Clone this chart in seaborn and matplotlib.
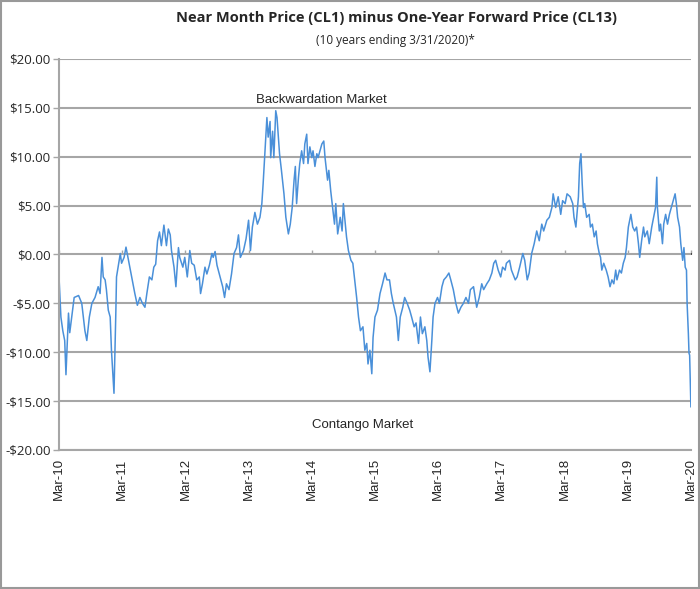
"""CL1 minus CL13 spread, 10 years ending 3/31/2020."""

import matplotlib
matplotlib.use("Agg")
import matplotlib.pyplot as plt
import matplotlib.ticker as mticker
import pandas as pd
import seaborn as sns

# decimal year of each traced point and the spread in $/bbl
years = [
    2010.25, 2010.28, 2010.31, 2010.34, 2010.36, 2010.40, 2010.42, 2010.49, 2010.56, 2010.61,
    2010.66, 2010.69, 2010.73, 2010.77, 2010.82, 2010.87, 2010.90, 2010.93, 2010.95, 2010.98,
    2011.00, 2011.03, 2011.06, 2011.08, 2011.12, 2011.15, 2011.16, 2011.19, 2011.22, 2011.24,
    2011.28, 2011.31, 2011.35, 2011.40, 2011.45, 2011.49, 2011.53, 2011.57, 2011.61, 2011.64,
    2011.68, 2011.72, 2011.75, 2011.78, 2011.81, 2011.84, 2011.87, 2011.91, 2011.95, 2011.98,
    2012.01, 2012.03, 2012.07, 2012.10, 2012.14, 2012.16, 2012.21, 2012.24, 2012.28, 2012.32,
    2012.35, 2012.39, 2012.43, 2012.47, 2012.49, 2012.52, 2012.56, 2012.59, 2012.63, 2012.67,
    2012.69, 2012.72, 2012.75, 2012.80, 2012.84, 2012.87, 2012.90, 2012.94, 2012.98, 2013.02,
    2013.06, 2013.09, 2013.12, 2013.17, 2013.21, 2013.25, 2013.28, 2013.31, 2013.35, 2013.39,
    2013.43, 2013.46, 2013.48, 2013.51, 2013.53, 2013.54, 2013.56, 2013.59, 2013.60, 2013.63,
    2013.65, 2013.68, 2013.70, 2013.74, 2013.77, 2013.81, 2013.84, 2013.88, 2013.91, 2013.94,
    2013.97, 2013.99, 2014.01, 2014.04, 2014.06, 2014.09, 2014.12, 2014.14, 2014.17, 2014.19,
    2014.22, 2014.25, 2014.27, 2014.30, 2014.33, 2014.35, 2014.38, 2014.41, 2014.44, 2014.46,
    2014.50, 2014.52, 2014.55, 2014.58, 2014.61, 2014.63, 2014.66, 2014.70, 2014.73, 2014.75,
    2014.78, 2014.80, 2014.83, 2014.87, 2014.90, 2014.93, 2014.96, 2014.99, 2015.02, 2015.06,
    2015.09, 2015.12, 2015.14, 2015.17, 2015.20, 2015.22, 2015.25, 2015.29, 2015.33, 2015.37,
    2015.41, 2015.44, 2015.48, 2015.51, 2015.54, 2015.59, 2015.62, 2015.65, 2015.69, 2015.72,
    2015.76, 2015.80, 2015.83, 2015.87, 2015.90, 2015.94, 2015.97, 2016.00, 2016.04, 2016.07,
    2016.09, 2016.12, 2016.15, 2016.17, 2016.20, 2016.24, 2016.27, 2016.31, 2016.34, 2016.38,
    2016.42, 2016.45, 2016.49, 2016.53, 2016.57, 2016.61, 2016.65, 2016.69, 2016.73, 2016.76,
    2016.81, 2016.86, 2016.90, 2016.94, 2016.97, 2017.02, 2017.06, 2017.10, 2017.13, 2017.16,
    2017.20, 2017.24, 2017.27, 2017.31, 2017.33, 2017.38, 2017.41, 2017.47, 2017.50, 2017.54,
    2017.59, 2017.62, 2017.66, 2017.69, 2017.73, 2017.77, 2017.81, 2017.85, 2017.89, 2017.92,
    2017.97, 2018.01, 2018.05, 2018.07, 2018.11, 2018.15, 2018.19, 2018.22, 2018.26, 2018.29,
    2018.34, 2018.38, 2018.40, 2018.43, 2018.47, 2018.49, 2018.51, 2018.53, 2018.55, 2018.57,
    2018.60, 2018.64, 2018.66, 2018.69, 2018.72, 2018.75, 2018.77, 2018.80, 2018.82, 2018.84,
    2018.87, 2018.91, 2018.94, 2018.97, 2019.00, 2019.03, 2019.06, 2019.08, 2019.12, 2019.15,
    2019.18, 2019.21, 2019.23, 2019.26, 2019.30, 2019.33, 2019.36, 2019.39, 2019.42, 2019.44,
    2019.47, 2019.50, 2019.52, 2019.56, 2019.59, 2019.63, 2019.66, 2019.69, 2019.71, 2019.72,
    2019.75, 2019.77, 2019.80, 2019.82, 2019.85, 2019.88, 2019.91, 2019.94, 2019.97, 2020.00,
    2020.02, 2020.04, 2020.07, 2020.09, 2020.12, 2020.14, 2020.16, 2020.18, 2020.19, 2020.21,
    2020.22, 2020.23, 2020.25,
]
spread = [
    -2.3, -6.4, -7.8, -8.8, -12.3, -6.0, -8.0, -4.4, -4.2, -5.0,
    -7.8, -8.8, -6.4, -5.0, -4.4, -3.3, -4.0, -0.3, -2.3, -2.6,
    -3.6, -5.7, -6.4, -9.8, -14.2, -5.7, -2.3, -1.1, 0.1, -0.9,
    -0.3, 0.75, -0.6, -2.3, -4.0, -5.2, -4.4, -5.0, -5.4, -4.0,
    -2.3, -2.6, -1.3, -1.0, 1.4, 2.3, 0.9, 3.0, 0.9, 2.6,
    2.0, 0.4, -1.3, -3.3, 0.7, -0.3, -1.3, -0.3, -2.3, 0.4,
    -0.9, -1.1, -2.6, -2.3, -4.0, -3.0, -1.3, -2.0, -1.1, 0.1,
    -0.3, 0.3, -1.1, -2.3, -3.3, -4.4, -3.0, -3.6, -2.0, 0.1,
    0.7, 2.0, -0.3, 0.4, 1.6, 3.5, 0.4, 2.8, 4.3, 3.1,
    3.8, 5.2, 7.2, 10.6, 13.0, 14.0, 12.0, 13.6, 9.9, 12.6,
    9.9, 14.7, 14.0, 10.3, 8.6, 6.2, 3.8, 2.1, 3.1, 4.8,
    7.6, 9.0, 5.2, 7.9, 9.3, 10.6, 9.3, 11.3, 12.3, 9.3,
    11.0, 9.9, 10.6, 9.0, 10.3, 9.9, 10.6, 11.3, 11.6, 9.9,
    7.6, 8.6, 6.5, 4.8, 3.1, 5.2, 2.1, 3.8, 2.4, 5.2,
    3.1, 1.8, 0.4, -0.6, -0.9, -2.6, -4.4, -6.4, -7.8, -7.4,
    -9.8, -9.1, -11.2, -9.8, -12.2, -8.5, -6.4, -5.7, -4.0, -3.0,
    -1.9, -2.6, -2.6, -4.0, -5.0, -6.4, -8.8, -6.4, -5.4, -4.4,
    -5.0, -5.7, -6.4, -7.4, -7.0, -9.1, -6.4, -8.1, -7.4, -8.8,
    -10.5, -12.0, -8.8, -6.4, -5.0, -4.4, -5.0, -3.3, -2.6, -2.3,
    -1.9, -2.6, -3.6, -5.0, -6.0, -5.4, -5.0, -4.4, -5.0, -3.6,
    -3.3, -5.4, -4.4, -3.0, -3.6, -3.0, -2.6, -1.9, -0.9, -0.6,
    -1.6, -2.3, -1.3, -1.6, -0.9, -0.6, -1.6, -2.6, -2.3, -1.3,
    0.1, -0.6, -2.6, -1.9, 0.1, 1.1, 2.4, 1.4, 3.1, 2.4,
    3.5, 3.8, 4.8, 6.2, 4.8, 5.9, 4.1, 5.5, 5.2, 6.2,
    5.9, 5.2, 3.8, 2.8, 5.9, 9.3, 10.3, 7.2, 4.8, 5.2,
    3.8, 4.1, 2.8, 3.1, 1.8, 2.4, 1.1, 0.1, -0.3, -1.6,
    -0.9, -1.6, -2.3, -3.3, -2.6, -3.0, -1.6, -2.6, -1.6, -1.9,
    -0.9, -0.3, 0.7, 2.8, 4.1, 2.8, 2.4, 2.8, 1.1, -0.3,
    1.4, 2.8, 1.8, 2.4, 1.1, 2.8, 3.8, 4.8, 7.9, 4.8,
    2.4, 3.1, 1.1, 3.1, 4.1, 3.1, 4.1, 4.8, 5.5, 6.2,
    5.2, 3.8, 2.8, 1.1, -0.6, 0.7, -1.3, -1.6, -5.0, -8.1,
    -10.1, -10.3, -15.6,
]

tick_years = [2010.25 + i for i in range(11)]
tick_labels = ["Mar-10", "Mar-11", "Mar-12", "Mar-13", "Mar-14", "Mar-15",
               "Mar-16", "Mar-17", "Mar-18", "Mar-19", "Mar-20"]

LINE_BLUE = "#4a90d9"
GRID_GREY = "#a6a6a6"

df = pd.DataFrame({"year": years, "spread": spread})

sns.set_theme(style="white")
plt.rcParams["font.family"] = ["Liberation Sans", "DejaVu Sans"]

fig = plt.figure(figsize=(7.0, 5.89), dpi=100)
ax = fig.add_axes([0.0843, 0.236, 0.9027, 0.664])

sns.lineplot(data=df, x="year", y="spread", ax=ax, color=LINE_BLUE, linewidth=1.1)

ax.set_xlim(tick_years[0], tick_years[-1])
ax.set_ylim(-20, 20)
ax.set_yticks(range(-20, 21, 5))
ax.yaxis.set_major_formatter(
    mticker.FuncFormatter(lambda v, _: f"${v:.2f}" if v >= 0 else f"-${-v:.2f}")
)
ax.set_xticks(tick_years)
ax.set_xticklabels(tick_labels, rotation=90, fontsize=9.5)
ax.tick_params(axis="y", labelsize=9.5, length=4, width=1, color=GRID_GREY,
               left=True, pad=2)
ax.tick_params(axis="x", length=0, pad=6)
for lbl in ax.get_yticklabels():
    lbl.set_family(["Open Sans", "DejaVu Sans"])
ax.set_xlabel("")
ax.set_ylabel("")

ax.grid(axis="y", color=GRID_GREY, linewidth=1.5)
ax.set_axisbelow(True)
for side in ["top", "right"]:
    ax.spines[side].set_visible(False)
ax.spines["left"].set_color(GRID_GREY)
ax.spines["left"].set_linewidth(1.5)
ax.spines["bottom"].set_color(GRID_GREY)
ax.spines["bottom"].set_linewidth(1.5)

# small tick marks hanging from the zero line, as in the Excel original
zero_axis = ax.secondary_xaxis(0.5)
zero_axis.set_xticks(tick_years)
zero_axis.set_xticklabels([])
zero_axis.tick_params(axis="x", direction="out", length=3, width=1, color=GRID_GREY)
zero_axis.spines["bottom"].set_visible(False)

ax.text(2014.4, 15.8, "Backwardation Market", ha="center", va="center", fontsize=9.5)
ax.text(2015.05, -17.4, "Contango Market", ha="center", va="center", fontsize=9.5)

fig.text(0.567, 0.969, "Near Month Price (CL1) minus One-Year Forward Price (CL13)",
         ha="center", va="center", fontsize=10.5, fontweight="bold",
         family=["Open Sans", "DejaVu Sans"])
fig.text(0.565, 0.932, "(10 years ending 3/31/2020)*", ha="center", va="center",
         fontsize=8.5, family=["Open Sans", "DejaVu Sans"])

fig.patches.append(plt.Rectangle((0.001, 0.001), 0.998, 0.998, transform=fig.transFigure,
                                 fill=False, edgecolor="#999999", linewidth=1.5))

fig.savefig("out.png", dpi=100)
